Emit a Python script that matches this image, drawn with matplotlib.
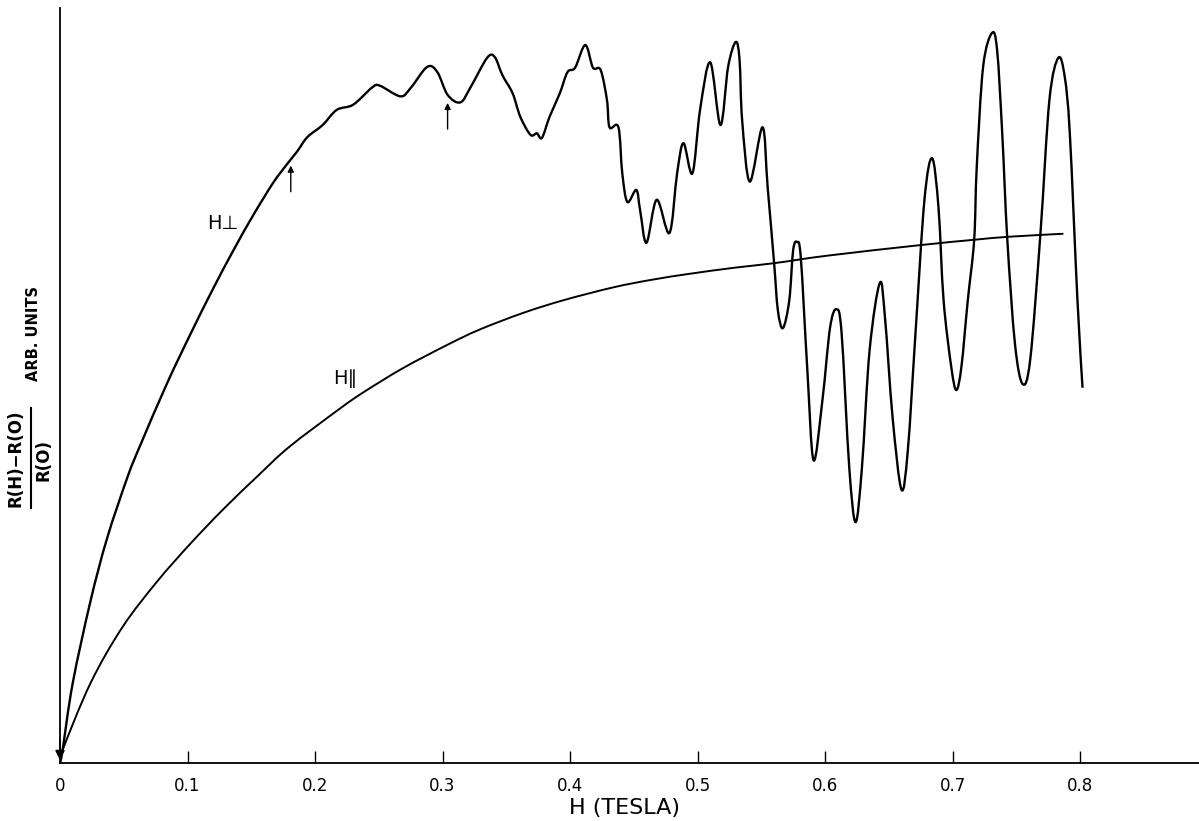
import numpy as np
import matplotlib
matplotlib.use("Agg")
import matplotlib.pyplot as plt
from matplotlib.path import Path
from matplotlib.patches import PathPatch

# H perpendicular (oscillating curve), H in tesla, response in arb. units
h_perp = [0.000, 0.002, 0.010, 0.024, 0.037, 0.053, 0.063, 0.084, 0.102, 0.120,
          0.136, 0.151, 0.167, 0.178, 0.186, 0.194, 0.206, 0.217, 0.230, 0.245,
          0.251, 0.267, 0.275, 0.288, 0.296, 0.304, 0.314, 0.322, 0.335, 0.341,
          0.347, 0.355, 0.361, 0.369, 0.374, 0.378, 0.384, 0.392, 0.398, 0.404,
          0.412, 0.418, 0.424, 0.429, 0.431, 0.438, 0.441, 0.445, 0.452, 0.455,
          0.460, 0.468, 0.478, 0.484, 0.489, 0.496, 0.502, 0.510, 0.518, 0.524,
          0.530, 0.533, 0.535, 0.541, 0.551, 0.555, 0.560, 0.563, 0.567, 0.572,
          0.575, 0.578, 0.581, 0.586, 0.591, 0.598, 0.604, 0.609, 0.613, 0.619,
          0.624, 0.629, 0.635, 0.643, 0.647, 0.653, 0.660, 0.665, 0.671, 0.678,
          0.684, 0.689, 0.693, 0.699, 0.703, 0.707, 0.712, 0.717, 0.719, 0.724,
          0.731, 0.735, 0.739, 0.743, 0.749, 0.755, 0.761, 0.769, 0.776, 0.783,
          0.788, 0.792, 0.798, 0.802]
r_perp = [0.0, 1.7, 10.6, 21.5, 29.8, 37.9, 42.1, 50.3, 56.7, 62.8,
          67.9, 72.4, 76.8, 79.3, 81.0, 82.9, 84.5, 86.5, 87.2, 89.5,
          89.7, 88.3, 89.4, 92.2, 91.5, 88.5, 87.5, 89.5, 93.4, 93.5,
          91.1, 88.7, 85.6, 83.2, 83.4, 82.8, 85.6, 88.7, 91.5, 92.1,
          95.1, 92.1, 91.8, 87.8, 84.2, 84.2, 78.1, 74.3, 75.9, 73.2,
          68.9, 74.6, 70.2, 78.1, 82.1, 78.1, 86.5, 92.8, 84.5, 92.2,
          95.5, 93.1, 85.2, 77.0, 84.2, 76.3, 66.4, 60.0, 57.6, 61.3,
          67.9, 69.0, 67.0, 52.5, 40.1, 48.1, 57.7, 60.1, 57.0, 39.2,
          31.9, 39.2, 54.7, 63.6, 59.1, 45.8, 36.2, 41.5, 57.0, 74.6,
          80.1, 73.6, 61.3, 52.5, 49.4, 52.5, 61.3, 69.3, 78.9, 92.2,
          96.7, 94.4, 83.4, 69.3, 55.5, 50.2, 53.5, 70.2, 87.8, 93.4,
          90.9, 83.4, 61.3, 49.7]

# H parallel (smooth curve)
h_par = [0.000, 0.002, 0.024, 0.049, 0.076, 0.102, 0.128, 0.155, 0.180, 0.220,
         0.238, 0.269, 0.304, 0.329, 0.363, 0.395, 0.434, 0.464, 0.494, 0.529,
         0.560, 0.602, 0.675, 0.717, 0.744, 0.787]
r_par = [0.0, 1.7, 10.6, 18.0, 24.0, 29.0, 33.6, 38.0, 41.9, 47.0,
         49.1, 52.3, 55.4, 57.4, 59.6, 61.3, 63.0, 64.0, 64.8, 65.6,
         66.2, 67.2, 68.6, 69.3, 69.7, 70.1]

xticks = [0, 0.1, 0.2, 0.3, 0.4, 0.5, 0.6, 0.7, 0.8]
xticklabels = ["0", "0.1", "0.2", "0.3", "0.4", "0.5", "0.6", "0.7", "0.8"]


def smooth_path(x, y):
    # Catmull-Rom through the read points, drawn as cubic Bezier pieces
    pts = np.column_stack([x, y])
    verts = [pts[0]]
    codes = [Path.MOVETO]
    n = len(pts)
    for i in range(n - 1):
        p0 = pts[max(i - 1, 0)]
        p1 = pts[i]
        p2 = pts[i + 1]
        p3 = pts[min(i + 2, n - 1)]
        verts += [p1 + (p2 - p0) / 6, p2 - (p3 - p1) / 6, p2]
        codes += [Path.CURVE4] * 3
    return Path(verts, codes)


W, H = 1199, 821
fig = plt.figure(figsize=(W / 100, H / 100), dpi=100)
ax = fig.add_axes([60 / W, 1 - 763 / H, 1 - 60 / W, (763 - 8) / H])

ax.add_patch(PathPatch(smooth_path(h_perp, r_perp), fill=False,
                       edgecolor="black", lw=1.7, joinstyle="round"))
ax.add_patch(PathPatch(smooth_path(h_par, r_par), fill=False,
                       edgecolor="black", lw=1.4, joinstyle="round"))

ax.set_xlim(0, (W - 60) / 1275)
ax.set_ylim(0, 100)
ax.spines["top"].set_visible(False)
ax.spines["right"].set_visible(False)
ax.spines["left"].set_linewidth(1.3)
ax.spines["bottom"].set_linewidth(1.3)
ax.set_yticks([])
ax.set_xticks(xticks)
ax.set_xticklabels(xticklabels)
ax.tick_params(axis="x", direction="in", length=9, width=1, pad=10, labelsize=12)
ax.xaxis.get_major_ticks()[0].tick1line.set_visible(False)

# arrow at origin
ax.annotate("", xy=(0.0, 0.0), xytext=(0.0, 3.5),
            arrowprops=dict(arrowstyle="-|>", color="black", lw=1.2, mutation_scale=14))

# small arrows marking features on H perp
ax.annotate("", xy=(0.181, 79.5), xytext=(0.181, 75.3),
            arrowprops=dict(arrowstyle="-|>", color="black", lw=1, mutation_scale=9))
ax.annotate("", xy=(0.304, 87.8), xytext=(0.304, 83.6),
            arrowprops=dict(arrowstyle="-|>", color="black", lw=1, mutation_scale=9))

ax.text(0.128, 71.5, "H\u22a5", fontsize=14, ha="center", va="center")
ax.text(0.2235, 50.9, "H\u2225", fontsize=14, ha="center", va="center")

# axis labels
fig.text(624 / W, 1 - 808 / H, "H (TESLA)", fontsize=16, ha="center", va="center")
fig.text(16 / W, 1 - 458 / H, "R(H)\u2212R(O)", fontsize=12, fontweight="bold",
         rotation=90, ha="center", va="center")
fig.text(43 / W, 1 - 460 / H, "R(O)", fontsize=12, fontweight="bold",
         rotation=90, ha="center", va="center")
fig.add_artist(plt.Line2D([31 / W, 31 / W], [1 - 508 / H, 1 - 408 / H],
                          color="black", lw=1.5))
fig.text(34 / W, 1 - 333 / H, "ARB. UNITS", fontsize=10.5, fontweight="bold",
         rotation=90, ha="center", va="center")

fig.savefig("out.png", dpi=100)
